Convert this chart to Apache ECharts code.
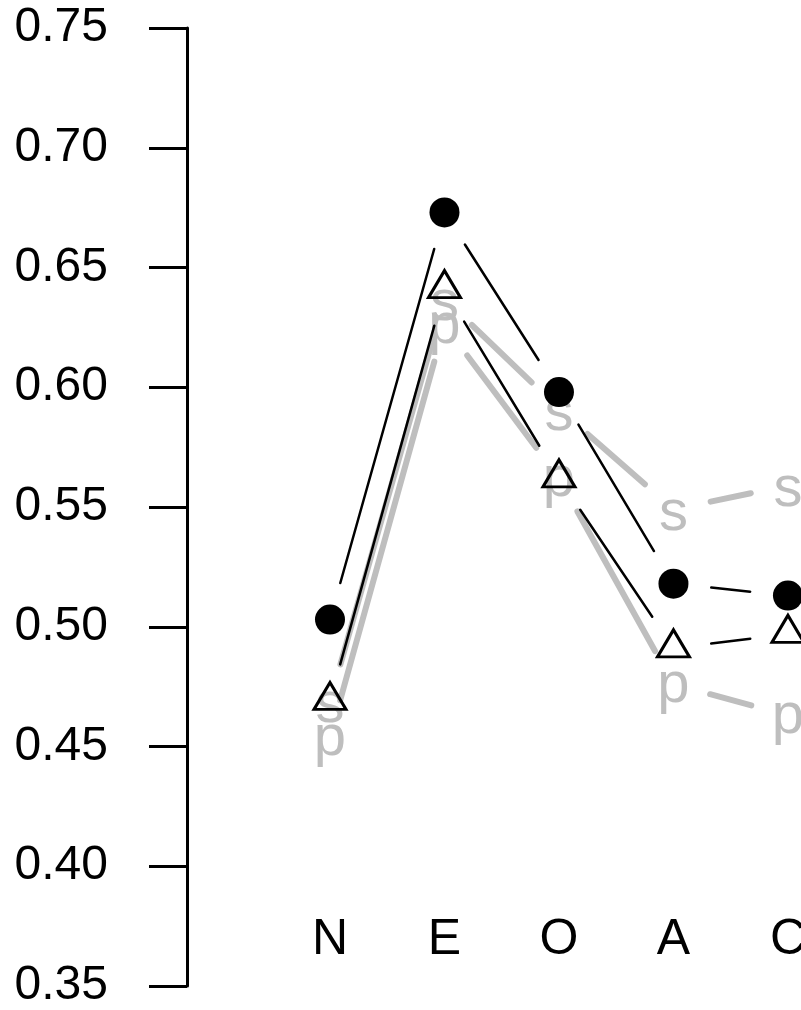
<!DOCTYPE html>
<html>
<head>
<meta charset="utf-8">
<script src="https://cdn.jsdelivr.net/npm/echarts@6/dist/echarts.min.js"></script>
<style>
  html, body { margin: 0; padding: 0; background: #fff; }
  #chart { width: 801px; height: 1010px; }
</style>
</head>
<body>
<div id="chart"></div>
<script>
// Dữ liệu
const categories = ['N', 'E', 'O', 'A', 'C'];
const circleValues = [0.503, 0.673, 0.598, 0.518, 0.513];
const triangleValues = [0.469, 0.641, 0.562, 0.491, 0.497];
const sValues = [0.469, 0.637, 0.591, 0.549, 0.559];
const pValues = [0.454, 0.626, 0.562, 0.476, 0.463];
const yMin = 0.35;
const yMax = 0.75;
const yStep = 0.05;
const labelLevel = 0.37;

const FONT = 'Liberation Sans, Arial, sans-serif';
const GRAY = '#bebebe';
const GAP = 38;

// [x1, y1, x2, y2] cho từng đoạn nối
function segments(values) {
  return values.slice(1).map((v, i) => [i + 1, values[i], i + 2, v]);
}
function points(values) {
  return values.map((v, i) => [i + 1, v]);
}

// Đoạn thẳng có khoảng hở ở 2 đầu (kiểu type = "b" trong R)
function gapLine(color, width) {
  return function (params, api) {
    const a = api.coord([api.value(0), api.value(1)]);
    const b = api.coord([api.value(2), api.value(3)]);
    const dx = b[0] - a[0], dy = b[1] - a[1];
    const len = Math.hypot(dx, dy);
    const ux = dx / len, uy = dy / len;
    return {
      type: 'line',
      shape: { x1: a[0] + ux * GAP, y1: a[1] + uy * GAP, x2: b[0] - ux * GAP, y2: b[1] - uy * GAP },
      style: { stroke: color, lineWidth: width, lineCap: 'round' }
    };
  };
}

function textMark(getText, color, size, dy) {
  return function (params, api) {
    const pt = api.coord([api.value(0), api.value(1)]);
    return {
      type: 'text',
      x: pt[0],
      y: pt[1] + dy,
      style: {
        text: getText(params.dataIndex),
        fill: color,
        fontSize: size,
        fontFamily: FONT,
        align: 'center',
        verticalAlign: 'middle'
      }
    };
  };
}

const chart = echarts.init(document.getElementById('chart'));

const option = {
  animation: false,
  backgroundColor: '#fff',
  grid: { left: 187, right: 0, top: 28, bottom: 23 },
  xAxis: {
    type: 'value',
    min: -0.249,
    max: 5.114,
    show: false
  },
  yAxis: {
    type: 'value',
    min: yMin,
    max: yMax,
    interval: yStep,
    axisLine: { show: true, onZero: false, lineStyle: { color: '#000', width: 3 } },
    axisTick: { show: true, length: 38, lineStyle: { color: '#000', width: 3 } },
    axisLabel: {
      color: '#000',
      fontSize: 48,
      fontFamily: FONT,
      margin: 79,
      formatter: v => v.toFixed(2)
    },
    splitLine: { show: false }
  },
  series: [
    // đường xám s, p
    {
      type: 'custom',
      data: segments(sValues),
      encode: { x: [0, 2], y: [1, 3] },
      renderItem: gapLine(GRAY, 6),
      clip: false
    },
    {
      type: 'custom',
      data: segments(pValues),
      encode: { x: [0, 2], y: [1, 3] },
      renderItem: gapLine(GRAY, 6),
      clip: false
    },
    {
      type: 'custom',
      data: points(sValues),
      encode: { x: 0, y: 1 },
      renderItem: textMark(() => 's', GRAY, 58, 5),
      clip: false
    },
    {
      type: 'custom',
      data: points(pValues),
      encode: { x: 0, y: 1 },
      renderItem: textMark(() => 'p', GRAY, 58, 2),
      clip: false
    },
    // đường đen
    {
      type: 'custom',
      data: segments(circleValues),
      encode: { x: [0, 2], y: [1, 3] },
      renderItem: gapLine('#000', 2.5),
      clip: false
    },
    {
      type: 'custom',
      data: segments(triangleValues),
      encode: { x: [0, 2], y: [1, 3] },
      renderItem: gapLine('#000', 2.5),
      clip: false
    },
    {
      type: 'scatter',
      data: points(circleValues),
      symbol: 'circle',
      symbolSize: 30,
      itemStyle: { color: '#000', opacity: 1 },
      clip: false
    },
    {
      type: 'scatter',
      data: points(triangleValues),
      symbol: 'triangle',
      symbolSize: [32, 27],
      symbolOffset: [0, -5],
      itemStyle: { color: 'rgba(0,0,0,0)', borderColor: '#000', borderWidth: 3, opacity: 1 },
      clip: false
    },
    // nhãn N E O A C
    {
      type: 'custom',
      data: categories.map((c, i) => [i + 1, labelLevel]),
      encode: { x: 0, y: 1 },
      renderItem: textMark(i => categories[i], '#000', 50, 2),
      clip: false
    }
  ]
};

chart.setOption(option);
window.addEventListener('resize', () => chart.resize());
</script>
</body>
</html>
